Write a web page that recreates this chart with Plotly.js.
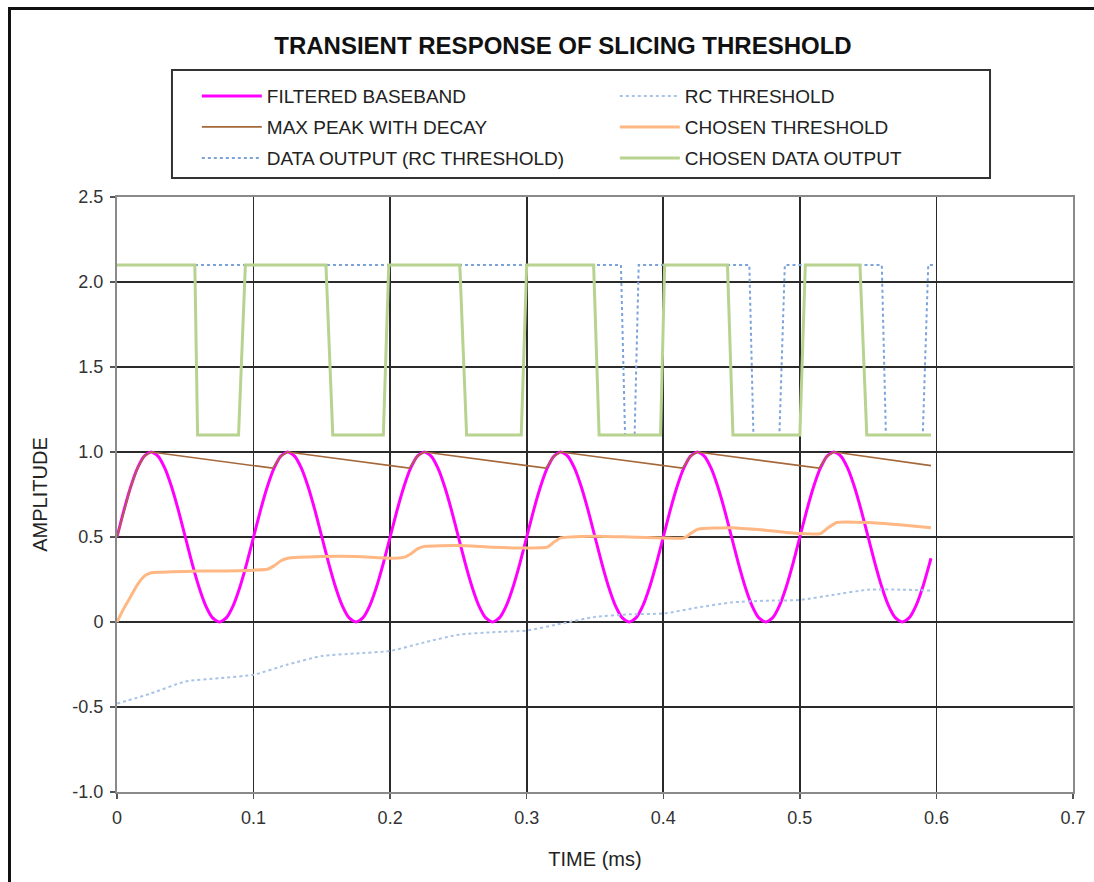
<!DOCTYPE html>
<html>
<head>
<meta charset="utf-8">
<script src="https://cdn.plot.ly/plotly-3.0.1.min.js"></script>
<style>
  html, body { margin: 0; padding: 0; overflow: hidden; background: #fff; }
  #chart { width: 1094px; height: 882px; position: absolute; left: 0; top: 0; }
  #frame { position: absolute; left: 8px; top: 7px; width: 2000px; height: 2000px;
           border-left: 3px solid #111; border-top: 3px solid #111; pointer-events: none; }
</style>
</head>
<body>
<div id="chart"></div>
<div id="frame"></div>
<script>
// ---- data ----
const TITLE = "TRANSIENT RESPONSE OF SLICING THRESHOLD";
const X_TICKS = [0, 0.1, 0.2, 0.3, 0.4, 0.5, 0.6, 0.7];
const X_TICK_TEXT = ["0", "0.1", "0.2", "0.3", "0.4", "0.5", "0.6", "0.7"];
const Y_TICKS = [-1, -0.5, 0, 0.5, 1, 1.5, 2, 2.5];
const Y_TICK_TEXT = ["-1.0", "-0.5", "0", "0.5", "1.0", "1.5", "2.0", "2.5"];

// Filtered baseband, sampled every 0.005 ms (last point at 0.596 ms)
const BASEBAND_Y = [
  0.5, 0.655, 0.794, 0.905, 0.976, 1.0, 0.976, 0.905, 0.794, 0.655, 0.5, 0.345, 0.206, 0.095, 0.024, 0.0, 0.024, 0.095, 0.206, 0.345,
  0.5, 0.655, 0.794, 0.905, 0.976, 1.0, 0.976, 0.905, 0.794, 0.655, 0.5, 0.345, 0.206, 0.095, 0.024, 0.0, 0.024, 0.095, 0.206, 0.345,
  0.5, 0.655, 0.794, 0.905, 0.976, 1.0, 0.976, 0.905, 0.794, 0.655, 0.5, 0.345, 0.206, 0.095, 0.024, 0.0, 0.024, 0.095, 0.206, 0.345,
  0.5, 0.655, 0.794, 0.905, 0.976, 1.0, 0.976, 0.905, 0.794, 0.655, 0.5, 0.345, 0.206, 0.095, 0.024, 0.0, 0.024, 0.095, 0.206, 0.345,
  0.5, 0.655, 0.794, 0.905, 0.976, 1.0, 0.976, 0.905, 0.794, 0.655, 0.5, 0.345, 0.206, 0.095, 0.024, 0.0, 0.024, 0.095, 0.206, 0.345,
  0.5, 0.655, 0.794, 0.905, 0.976, 1.0, 0.976, 0.905, 0.794, 0.655, 0.5, 0.345, 0.206, 0.095, 0.024, 0.0, 0.024, 0.095, 0.206, 0.345,
  0.375
];
const BASEBAND_T = [];
for (let i = 0; i < BASEBAND_Y.length - 1; i++) BASEBAND_T.push(+(i * 0.005).toFixed(3));
BASEBAND_T.push(0.596);

const PEAK_T = [0, 0.005, 0.01, 0.015, 0.02, 0.025, 0.114, 0.12, 0.125, 0.214, 0.22, 0.225,
                0.314, 0.32, 0.325, 0.414, 0.42, 0.425, 0.514, 0.52, 0.525, 0.596];
const PEAK_Y = [0.5, 0.655, 0.794, 0.905, 0.976, 1.0, 0.905, 0.976, 1.0, 0.905, 0.976, 1.0,
                0.905, 0.976, 1.0, 0.905, 0.976, 1.0, 0.905, 0.976, 1.0, 0.92];

const RC_T = [0, 0.025, 0.05, 0.075, 0.1, 0.125, 0.15, 0.175, 0.2, 0.225, 0.25, 0.275, 0.3,
              0.325, 0.35, 0.375, 0.4, 0.425, 0.45, 0.475, 0.5, 0.525, 0.55, 0.575, 0.596];
const RC_Y = [-0.48, -0.42, -0.35, -0.33, -0.31, -0.25, -0.2, -0.185, -0.17, -0.12, -0.075, -0.06, -0.05,
              -0.01, 0.03, 0.045, 0.05, 0.085, 0.115, 0.125, 0.13, 0.16, 0.19, 0.19, 0.185];

const CHOSEN_T = [0, 0.005, 0.01, 0.015, 0.02, 0.025, 0.04, 0.06, 0.08, 0.1, 0.11, 0.115, 0.12, 0.125,
                  0.15, 0.175, 0.2, 0.21, 0.215, 0.22, 0.225, 0.25, 0.275, 0.3, 0.315, 0.32, 0.325,
                  0.35, 0.375, 0.4, 0.415, 0.42, 0.425, 0.45, 0.475, 0.5, 0.515, 0.52, 0.527,
                  0.55, 0.575, 0.596];
const CHOSEN_Y = [0, 0.08, 0.15, 0.22, 0.27, 0.29, 0.295, 0.3, 0.3, 0.305, 0.31, 0.33, 0.36, 0.375,
                  0.385, 0.385, 0.375, 0.38, 0.40, 0.43, 0.445, 0.45, 0.44, 0.435, 0.44, 0.47, 0.495,
                  0.505, 0.5, 0.494, 0.494, 0.52, 0.545, 0.555, 0.54, 0.52, 0.52, 0.55, 0.585,
                  0.585, 0.57, 0.555];

const DATA_RC_T = [0, 0.369, 0.372, 0.379, 0.382, 0.463, 0.466, 0.485, 0.489, 0.56, 0.563, 0.59, 0.594, 0.598];
const DATA_RC_Y = [2.1, 2.1, 1.1, 1.1, 2.1, 2.1, 1.1, 1.1, 2.1, 2.1, 1.1, 1.1, 2.1, 2.1];

const DATA_CH_T = [0, 0.057, 0.059, 0.089, 0.094, 0.153, 0.158, 0.195, 0.199, 0.251, 0.256, 0.296,
                   0.300, 0.349, 0.353, 0.398, 0.401, 0.447, 0.451, 0.500, 0.504, 0.544, 0.549, 0.596];
const DATA_CH_Y = [2.1, 2.1, 1.1, 1.1, 2.1, 2.1, 1.1, 1.1, 2.1, 2.1, 1.1, 1.1,
                   2.1, 2.1, 1.1, 1.1, 2.1, 2.1, 1.1, 1.1, 2.1, 2.1, 1.1, 1.1];

// ---- chart ----
const FONT = "Liberation Sans, Arial, Helvetica, sans-serif";

const traces = [
  { name: "FILTERED BASEBAND", x: BASEBAND_T, y: BASEBAND_Y, mode: "lines", legend: "legend",
    line: { color: "#FF00FF", width: 3, shape: "spline", smoothing: 0.6 } },
  { name: "RC THRESHOLD", x: RC_T, y: RC_Y, mode: "lines", legend: "legend",
    line: { color: "#A9C3E8", width: 2, dash: "dot", shape: "spline", smoothing: 0.6 } },
  { name: "MAX PEAK WITH DECAY", x: PEAK_T, y: PEAK_Y, mode: "lines", legend: "legend2",
    line: { color: "#A5683A", width: 1.6 } },
  { name: "CHOSEN THRESHOLD", x: CHOSEN_T, y: CHOSEN_Y, mode: "lines", legend: "legend2",
    line: { color: "#FFB783", width: 3, shape: "spline", smoothing: 0.5 } },
  { name: "DATA OUTPUT (RC THRESHOLD)", x: DATA_RC_T, y: DATA_RC_Y, mode: "lines", legend: "legend3",
    line: { color: "#7BA3DA", width: 2, dash: "dot" } },
  { name: "CHOSEN DATA OUTPUT", x: DATA_CH_T, y: DATA_CH_Y, mode: "lines", legend: "legend3",
    line: { color: "#B8D38F", width: 3 } }
];

function legendRow(yPaper) {
  return {
    orientation: "h", x: 0.0835, xanchor: "left", y: yPaper, yanchor: "middle",
    bgcolor: "rgba(0,0,0,0)", borderwidth: 0,
    font: { family: FONT, size: 19, color: "#222" },
    entrywidth: 343, itemwidth: 60, traceorder: "normal"
  };
}

const layout = {
  width: 1094, height: 882,
  margin: { l: 117, r: 21, t: 197, b: 90 },
  paper_bgcolor: "#fff", plot_bgcolor: "#fff",
  font: { family: FONT, color: "#222" },
  showlegend: true,
  title: { text: "<b>" + TITLE + "</b>", font: { family: FONT, size: 24, color: "#111" },
           x: 0.5146, xanchor: "center", xref: "container", y: 0.948, yanchor: "middle", yref: "container" },
  legend: legendRow(1.1697),
  legend2: legendRow(1.1176),
  legend3: legendRow(1.0655),
  shapes: [{
    type: "rect", xref: "paper", yref: "paper",
    x0: 0.0575, x1: 0.9132, y0: 1.0319, y1: 1.2134,
    line: { color: "#333", width: 2 }, fillcolor: "rgba(0,0,0,0)", layer: "above"
  }],
  xaxis: {
    range: [0, 0.7], tickmode: "array", tickvals: X_TICKS, ticktext: X_TICK_TEXT,
    showgrid: true, gridcolor: "#2a2a2a", gridwidth: 1.6, zeroline: false,
    showline: true, linecolor: "#8a8a8a", linewidth: 2, mirror: true,
    ticks: "outside", ticklen: 5, tickcolor: "#555", tickwidth: 1.5,
    ticklabelstandoff: 3,
    tickfont: { family: FONT, size: 18, color: "#333" },
    title: { text: "TIME (ms)", font: { family: FONT, size: 20, color: "#222" }, standoff: 25 }
  },
  yaxis: {
    range: [-1, 2.5], tickmode: "array", tickvals: Y_TICKS, ticktext: Y_TICK_TEXT,
    showgrid: true, gridcolor: "#2a2a2a", gridwidth: 1.6, zeroline: false,
    showline: true, linecolor: "#8a8a8a", linewidth: 2, mirror: true,
    ticks: "outside", ticklen: 5, tickcolor: "#555", tickwidth: 1.5,
    ticklabelstandoff: 3,
    tickfont: { family: FONT, size: 18, color: "#333" },
    title: { text: "AMPLITUDE", font: { family: FONT, size: 20, color: "#222" }, standoff: 19 }
  }
};

Plotly.newPlot("chart", traces, layout, { displayModeBar: false, staticPlot: true });
</script>
</body>
</html>
